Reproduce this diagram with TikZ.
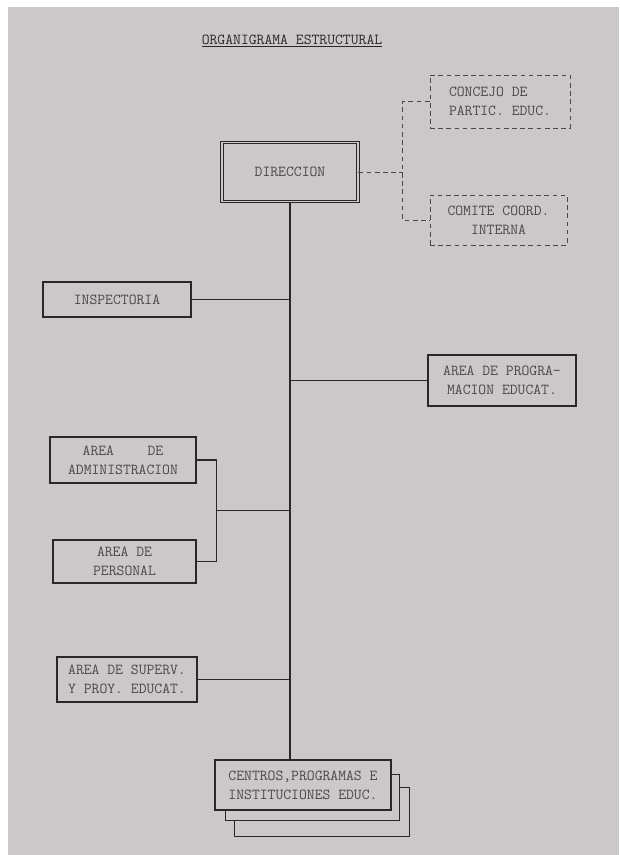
\documentclass[tikz,border=0pt]{standalone}
\usepackage{tikz}
\usetikzlibrary{positioning, calc}
\definecolor{paper}{HTML}{CCC8CA}
\definecolor{ink}{HTML}{2A2729}
\definecolor{typed}{HTML}{4C484A}
\tikzset{
    % typewriter text
    typewr/.style={font=\ttfamily\fontsize{13}{16}\selectfont, text=typed},
}
\begin{document}
\begin{tikzpicture}[
    x=0.3mm, y=-0.3mm,
    box/.style={rectangle, draw=ink, line width=1pt, typewr, align=center, inner sep=0pt},
    dbox/.style={box, double=paper, double distance=1.4pt, line width=0.7pt},
    council/.style={box, draw=typed, dash pattern=on 4pt off 3pt, line width=0.8pt},
    link/.style={draw=ink, line width=1pt},
    dlink/.style={draw=typed, dash pattern=on 4pt off 3pt, line width=0.8pt},
]
    % Page
    \useasboundingbox (0,0) rectangle (619,855);
    \fill[white] (0,0) rectangle (619,855);
    \fill[paper] (8,7) rectangle (619,855);

    % Title
    \node[typewr, text=ink] (title) at (292,41) {\underline{ORGANIGRAMA ESTRUCTURAL}};

    % Top level
    \node[dbox, minimum width=40.8mm, minimum height=17.7mm] (dir) at (290,172) {DIRECCION};
    \node[council, minimum width=42mm, minimum height=15.9mm, align=left] (cons) at (500,101.5) {CONCEJO DE\\PARTIC. EDUC.};
    \node[council, minimum width=41.1mm, minimum height=15mm] (com) at (498.5,220) {COMITE COORD.\\INTERNA};

    % Areas
    \node[box, minimum width=44.4mm, minimum height=10.5mm] (insp) at (117,299.5) {INSPECTORIA};
    \node[box, minimum width=44.4mm, minimum height=15.3mm] (prog) at (502,380.5) {AREA DE PROGRA-\\MACION EDUCAT.};
    \node[box, minimum width=43.8mm, minimum height=13.8mm] (adm) at (123,460) {AREA\hspace{2.2em}DE\\ADMINISTRACION};
    \node[box, minimum width=42.9mm, minimum height=12.9mm] (per) at (124.5,561.5) {AREA DE\\PERSONAL};
    \node[box, minimum width=42mm, minimum height=13.5mm] (sup) at (127,679.5) {AREA DE SUPERV.\\Y PROY. EDUCAT.};

    % Bottom level
    \node[box, minimum width=52.8mm, minimum height=15mm] (cen) at (303,785) {CENTROS,PROGRAMAS E\\INSTITUCIONES EDUC.};
    \draw[link] ($(cen.north east)+(0,15)$) -- ++(8,0) |- ($(cen.south west)+(11,10)$) -- ($(cen.south west)+(11,0)$);
    \draw[link] ($(cen.north east)+(8,28)$) -- ++(10,0) |- ($(cen.south west)+(20,26)$) -- ($(cen.south west)+(20,10)$);

    % Main line
    \draw[link] (dir.south) -- (dir.south |- cen.north);

    % Staff bodies
    \draw[dlink] (dir.east) -- ++(45,0);
    \draw[dlink] (cons.west) -- ++(-27,0) |- (com.west);

    % Branches
    \draw[link] (insp.east) -- (insp.east -| dir.south);
    \draw[link] (prog.west) -- (prog.west -| dir.south);
    \draw[link] (adm.east) -- ++(20,0) |- (per.east);
    \coordinate (admper) at ($(adm.east)!0.5!(per.east)+(20,0)$);
    \draw[link] (admper) -- (admper -| dir.south);
    \draw[link] (sup.east) -- (sup.east -| dir.south);
\end{tikzpicture}
\end{document}
